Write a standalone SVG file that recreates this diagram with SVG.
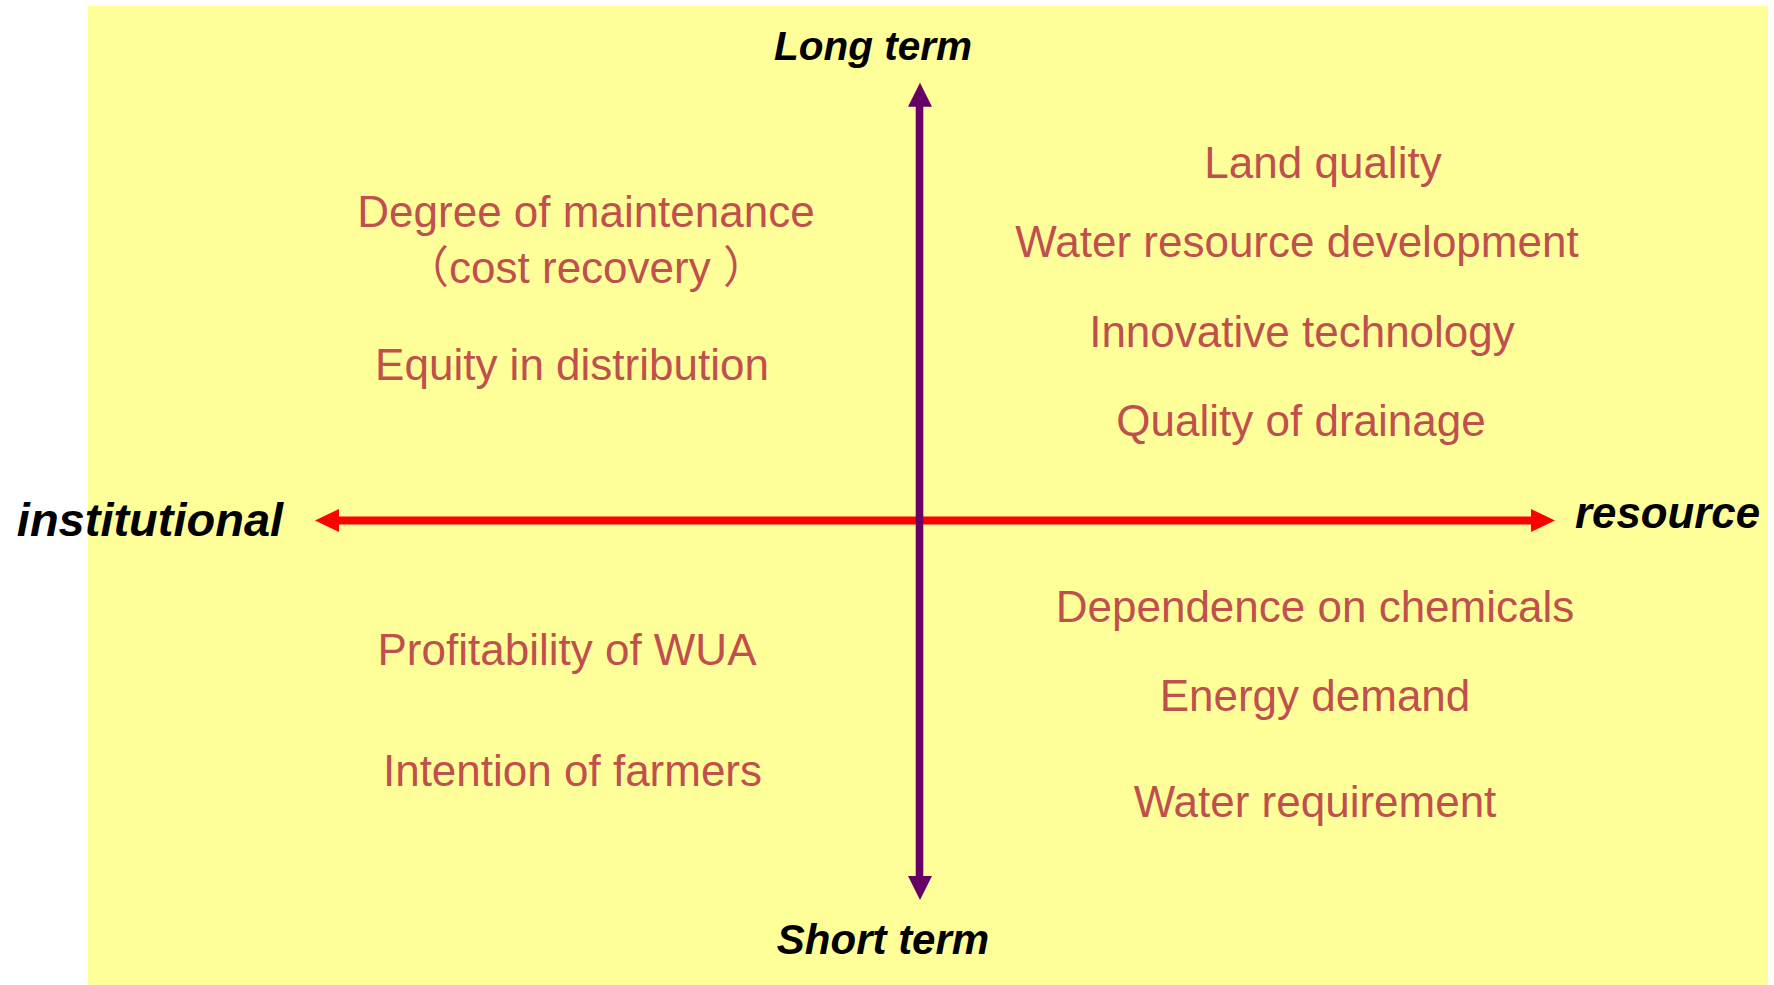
<svg xmlns="http://www.w3.org/2000/svg" width="1774" height="985" viewBox="0 0 1774 985">
<style>
.item{font-family:"Liberation Sans","Noto Sans CJK SC",Arial,sans-serif;font-size:44px;fill:#C0504D;text-anchor:middle}
.axis{font-family:"Liberation Sans",Arial,sans-serif;font-weight:bold;font-style:italic;fill:#000;text-anchor:middle}
</style>
<rect x="0" y="0" width="1774" height="985" fill="#FFFFFF"/>
<rect x="88" y="6" width="1680" height="979" fill="#FFFF99"/>
<g id="connectors">
  <line x1="335" y1="520.5" x2="1535" y2="520.5" stroke="#FF0000" stroke-width="8"/>
  <polygon points="315,520.5 339,509 339,532" fill="#FF0000"/>
  <polygon points="1555,520.5 1531,509 1531,532" fill="#FF0000"/>
  <line x1="919.5" y1="102" x2="919.5" y2="880" stroke="#660066" stroke-width="7.6"/>
  <polygon points="920,82.7 908,106.7 932,106.7" fill="#660066"/>
  <polygon points="920,900 908,876 932,876" fill="#660066"/>
</g>
<g id="label-long-term"><text class="axis" x="873" y="60" font-size="40.5">Long term</text></g>
<g id="label-short-term"><text class="axis" x="883" y="954" font-size="42">Short term</text></g>
<g id="label-institutional"><text class="axis" x="150" y="536" font-size="47">institutional</text></g>
<g id="label-resource"><text class="axis" x="1667.5" y="528.3" font-size="43.8">resource</text></g>
<g id="node-degree"><text class="item" x="586" y="227">Degree of maintenance</text><text class="item" x="586" y="283">（cost recovery ）</text></g>
<g id="node-equity"><text class="item" x="572" y="380" font-size="45.5">Equity in distribution</text></g>
<g id="node-profitability"><text class="item" x="567" y="665">Profitability of WUA</text></g>
<g id="node-intention"><text class="item" x="572.5" y="786">Intention of farmers</text></g>
<g id="node-land"><text class="item" x="1323" y="178">Land quality</text></g>
<g id="node-water-dev"><text class="item" x="1297" y="257">Water resource development</text></g>
<g id="node-innovative"><text class="item" x="1302" y="347">Innovative technology</text></g>
<g id="node-drainage"><text class="item" x="1301" y="436">Quality of drainage</text></g>
<g id="node-chemicals"><text class="item" x="1315" y="622">Dependence on chemicals</text></g>
<g id="node-energy"><text class="item" x="1315" y="711">Energy demand</text></g>
<g id="node-water-req"><text class="item" x="1315" y="817">Water requirement</text></g>
</svg>
